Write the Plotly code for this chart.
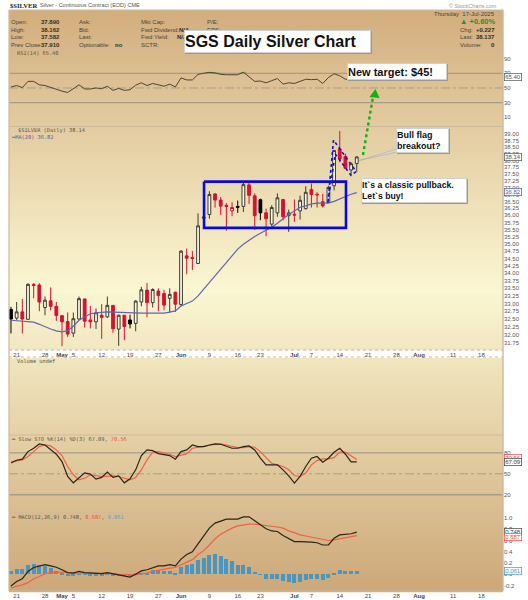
import plotly.graph_objects as go

tick_idx = [1, 6, 9, 11, 16, 21, 26, 30, 35, 40, 44, 50, 53, 58, 63, 68, 72, 78, 83]
tick_txt = ["21", "28", "<b>May</b>", "5", "12", "19", "27", "<b>Jun</b>", "9", "16", "23",
            "<b>Jul</b>", "7", "14", "21", "28", "<b>Aug</b>", "11", "18"]
price_ticks = [31.75, 32.00, 32.25, 32.50, 32.75, 33.00, 33.25, 33.50, 33.75, 34.00, 34.25, 34.50, 34.75,
               35.00, 35.25, 35.50, 35.75, 36.00, 36.25, 36.50, 36.75, 37.00, 37.25, 37.50, 37.75, 38.00,
               38.25, 38.50, 38.75, 39.00]

opens = [32.81, 32.53, 32.73, 32.49, 33.63, 33.61, 32.87, 33.09, 32.91, 32.61, 32.42, 32.05, 32.50, 33.15, 32.47, 32.41,
         32.62, 32.57, 32.94, 32.18, 32.62, 32.47, 32.36, 33.05, 33.44, 33.03, 33.41, 33.33, 33.17, 33.37, 32.97,
         34.59, 34.53, 34.33, 35.90, 36.03, 36.77, 36.55, 36.36, 36.16, 36.32, 36.32, 37.10, 36.70, 36.56, 36.09,
         35.69, 36.09, 36.57, 35.99, 36.04, 36.16, 36.24, 36.93, 36.76, 36.49, 36.47, 37.07, 38.44, 38.16, 37.65, 37.89]
highs = [32.89, 33.05, 33.15, 33.67, 33.67, 33.67, 33.23, 33.53, 33.05, 32.63, 32.71, 32.71, 33.23, 33.15, 32.92, 32.84,
         32.98, 33.23, 32.95, 32.64, 32.62, 32.64, 33.11, 33.55, 33.68, 33.50, 33.50, 33.45, 33.50, 33.39, 34.79,
         34.84, 34.76, 36.07, 36.02, 36.87, 36.79, 36.66, 36.44, 36.47, 36.53, 37.19, 37.24, 36.79, 36.60, 36.24,
         36.36, 36.79, 36.57, 36.21, 36.57, 36.71, 37.05, 37.15, 36.83, 36.77, 37.07, 38.38, 39.13, 38.26, 37.94, 38.162]
lows = [32.04, 32.47, 32.04, 32.47, 33.17, 32.75, 32.62, 32.78, 32.44, 31.64, 31.93, 31.93, 32.47, 32.23, 32.20, 32.18,
        31.87, 32.53, 32.06, 31.65, 31.83, 32.20, 32.11, 32.91, 32.56, 32.87, 32.75, 32.78, 32.70, 32.73, 32.91,
        33.97, 34.11, 34.33, 35.88, 35.88, 36.28, 36.01, 35.46, 35.97, 36.09, 36.12, 36.41, 35.48, 35.83, 35.27,
        35.62, 35.95, 35.83, 35.42, 35.77, 35.85, 36.21, 36.28, 36.28, 36.28, 36.47, 36.90, 37.94, 37.71, 37.46, 37.582]
closes = [32.50, 32.73, 32.50, 33.63, 33.59, 33.05, 33.11, 32.91, 32.61, 32.41, 32.02, 32.51, 33.16, 32.43, 32.41, 32.70,
          32.55, 32.94, 32.19, 32.62, 32.26, 32.34, 33.08, 33.45, 33.03, 33.46, 33.26, 32.95, 33.30, 32.98, 34.75,
          34.51, 34.50, 35.63, 35.94, 36.75, 36.55, 36.33, 36.32, 36.28, 36.29, 37.11, 36.72, 35.99, 36.09, 35.88,
          36.28, 36.63, 35.95, 36.09, 36.01, 36.54, 36.83, 36.75, 36.74, 36.34, 37.01, 38.38, 38.06, 37.71, 37.88, 38.137]
ma20 = [32.46, 32.45, 32.42, 32.41, 32.40, 32.33, 32.25, 32.18, 32.12, 32.09, 32.13, 32.27, 32.46, 32.56, 32.67, 32.70,
        32.72, 32.73, 32.72, 32.71, 32.71, 32.70, 32.70, 32.69, 32.69, 32.69, 32.69, 32.69, 32.72, 32.76, 32.92,
        33.00, 33.08, 33.25, 33.47, 33.69, 33.91, 34.16, 34.38, 34.61, 34.82, 34.99, 35.13, 35.26, 35.37, 35.47,
        35.58, 35.72, 35.88, 36.03, 36.16, 36.29, 36.34, 36.41, 36.44, 36.44, 36.44, 36.50, 36.59, 36.68, 36.76, 36.82]
rsi = [51.4, 53.3, 50.5, 59, 59, 54.3, 53.3, 50.5, 48.6, 45.7, 43.8, 49, 54.3, 48.6, 48.6, 50, 49, 52.4, 46.7, 49.5,
       46.7, 47.6, 53.8, 57.1, 53.3, 56.2, 54.3, 52.4, 55.2, 51.4, 63.8, 61, 61, 68.6, 70.2, 71.4, 70.6, 68.6, 68.1,
       68.1, 68.1, 71.6, 65.7, 59, 59.5, 57.1, 60, 62.9, 55.2, 57.1, 56.2, 59.5, 61.9, 61.4, 61.9, 56.2, 64.3, 69.5,
       66.7, 61.9, 61.9, 65.4]
sto_k = [66.2, 69.5, 71, 81.9, 86.7, 92.9, 91.4, 84.3, 78.1, 67.6, 46.2, 37.1, 43.8, 51.4, 49.5, 42.4, 44.8, 52.4, 44.8,
         47.1, 37.1, 42.9, 55.7, 76.2, 84.3, 83.3, 79, 78.1, 76.2, 71, 81.9, 84.3, 91.4, 89, 89, 91.4, 92.9, 92.4, 89,
         86.7, 86.7, 89, 90, 84.3, 72.4, 62.9, 62.9, 62.9, 55.7, 47.1, 36.7, 46.2, 60.5, 72.4, 74.8, 66.7, 72.4, 81,
         86.7, 78.1, 67.2, 67.09]
sto_d = [65.2, 68.6, 70, 74.8, 81.9, 89, 91.4, 90, 84.3, 76.2, 60.5, 48.6, 41.4, 43.8, 48.6, 47.1, 46.2, 46.2, 47.1,
         46.2, 43.8, 41.4, 44.8, 55.7, 70, 81, 81.9, 80.5, 78.1, 74.8, 76.2, 78.6, 86.7, 88.6, 89.5, 91, 92.4, 92.9,
         91.4, 89, 87.6, 87.6, 89, 88.1, 81.9, 73.3, 65.2, 62.9, 60.5, 55.7, 47.6, 46.2, 51, 62.9, 69, 71.4, 71.4, 73.3,
         81, 81, 76.2, 70.56]
macd = [-.21, -.13, -.08, .05, .12, .15, .17, .15, .125, .08, .03, .02, .05, .03, .02, .02, .01, .03, .01, -.01, -.04,
        -.05, 0, .06, .08, .12, .15, .15, .17, .15, .27, .35, .40, .54, .67, .82, .91, .95, .98, .98, .98, 1.02, 1.02,
        .95, .88, .81, .77, .76, .69, .63, .58, .58, .58, .57, .56, .52, .52, .64, .70, .71, .72, .748]
signal = [-.24, -.22, -.19, -.15, -.08, -.04, .01, .03, .04, .04, .03, .02, .02, .02, .02, .02, .02, .02, .01, 0, 0,
          -.01, -.01, .01, .02, .05, .07, .10, .11, .12, .17, .21, .26, .35, .42, .52, .63, .71, .77, .82, .86, .88,
          .89, .89, .88, .87, .86, .84, .82, .77, .74, .70, .68, .66, .64, .61, .60, .61, .63, .64, .66, .687]
hist = [.05, .09, .09, .16, .19, .17, .15, .11, .065, .03, -.03, -.03, -.012, -.012, -.04, -.03, -.03, .005, -.03, -.03,
        -.04, -.04, .01, .03, .03, .07, .08, .05, .05, .03, .12, .17, .18, .25, .29, .35, .36, .32, .28, .24, .17, .17,
        .13, .04, -.01, -.08, -.09, -.09, -.12, -.14, -.16, -.13, -.10, -.08, -.08, -.10, -.07, .02, .07, .05, .05, .061]

W, H = 528, 600
L, R = 9, 503
FONT = "Liberation Sans"
def px(x): return x / W
def py(y): return 1 - y / H
days = list(range(len(closes)))
fig = go.Figure()

# candles: four StockCharts styles, decided by close against open and previous close
def kind(i):
    up_day = i == 0 or closes[i] >= closes[i - 1]
    hollow = closes[i] >= opens[i]
    if hollow:
        return "hollow" if up_day else "hollowred"
    return "black" if up_day else "red"
styles = {"hollow": ("#3c3c30", "#fbf8e4"), "hollowred": ("#d8102e", "#fbf8e4"),
          "red": ("#d8102e", "#d8102e"), "black": ("#000000", "#000000")}
for k, (lc, fc) in styles.items():
    idx = [i for i in days if kind(i) == k]
    side = dict(line=dict(color=lc, width=1), fillcolor=fc)
    fig.add_trace(go.Candlestick(x=idx, open=[opens[i] for i in idx], high=[highs[i] for i in idx],
                                 low=[lows[i] for i in idx], close=[closes[i] for i in idx],
                                 increasing=side, decreasing=side, whiskerwidth=0,
                                 xaxis="x2", yaxis="y2", showlegend=False))
fig.add_trace(go.Scatter(x=days, y=ma20, mode="lines", line=dict(color="#6464b0", width=1.2), xaxis="x2", yaxis="y2"))

# hand-drawn consolidation box and flag
box_x, box_y = [34.06, 59.1, 59.1, 34.06, 34.06], [37.22, 37.22, 35.56, 35.56, 37.22]
fig.add_trace(go.Scatter(x=box_x, y=box_y, mode="lines", line=dict(color="#0808e0", width=2.6), xaxis="x2", yaxis="y2"))
flag_x, flag_y = [55.9, 56.9, 60.9, 60.0, 57.2, 55.9], [36.45, 38.78, 37.59, 37.45, 38.25, 36.45]
fig.add_trace(go.Scatter(x=flag_x, y=flag_y, mode="lines", line=dict(color="#1010d8", width=1.6, dash="dot"), xaxis="x2", yaxis="y2"))

# RSI
rsi_top = [max(v, 70) for v in rsi]
fig.add_trace(go.Scatter(x=days, y=[70] * len(days), mode="lines", line=dict(width=0), xaxis="x1", yaxis="y1"))
fig.add_trace(go.Scatter(x=days, y=rsi_top, mode="lines", line=dict(width=0), fill="tonexty",
                         fillcolor="#4c9a3c", xaxis="x1", yaxis="y1"))
fig.add_trace(go.Scatter(x=days, y=rsi, mode="lines", line=dict(color="#4a4636", width=1), xaxis="x1", yaxis="y1"))

# Stochastics
fig.add_trace(go.Scatter(x=days, y=sto_d, mode="lines", line=dict(color="#f0604a", width=1.2), xaxis="x3", yaxis="y3"))
fig.add_trace(go.Scatter(x=days, y=sto_k, mode="lines", line=dict(color="#2a2418", width=1.2), xaxis="x3", yaxis="y3"))

# MACD
fig.add_trace(go.Bar(x=days, y=hist, width=0.72, marker=dict(color="#4896c4", line=dict(width=0)), xaxis="x4", yaxis="y4"))
fig.add_trace(go.Scatter(x=days, y=signal, mode="lines", line=dict(color="#f0604a", width=1.2), xaxis="x4", yaxis="y4"))
fig.add_trace(go.Scatter(x=days, y=macd, mode="lines", line=dict(color="#2a2418", width=1.2), xaxis="x4", yaxis="y4"))

shapes = []
# gradient background
stops = [(10, (211, 174, 126)), (290, (251, 247, 211)), (591, (205, 168, 120))]
def grad(y):
    for (a, ca), (b, cb) in zip(stops, stops[1:]):
        if y <= b:
            t = (y - a) / (b - a)
            return "rgb(%d,%d,%d)" % tuple(ca[j] + (cb[j] - ca[j]) * t for j in range(3))
    return "rgb(205,168,120)"
for y in range(10, 591, 2):
    if 350 <= y < 357:
        continue
    shapes.append(dict(type="rect", layer="below", xref="paper", yref="paper", x0=px(L), x1=px(R),
                       y0=py(y), y1=py(y + 2.3), line=dict(width=0), fillcolor=grad(y)))
# panel frames
EDGE = "#cfb79c"
for y in [10, 49, 126.5, 435, 513, 591]:
    shapes.append(dict(type="line", xref="paper", yref="paper", x0=px(L), x1=px(R), y0=py(y), y1=py(y),
                       line=dict(color=EDGE, width=1.2)))
for y in [350, 357]:
    shapes.append(dict(type="line", xref="paper", yref="paper", x0=px(L), x1=px(R), y0=py(y), y1=py(y),
                       line=dict(color=EDGE, width=1, dash="dot")))
shapes.append(dict(type="line", xref="paper", yref="paper", x0=px(L), x1=px(L), y0=py(10), y1=py(591), line=dict(color=EDGE, width=1.2)))
shapes.append(dict(type="line", xref="paper", yref="paper", x0=px(R), x1=px(R), y0=py(10), y1=py(591), line=dict(color=EDGE, width=1.4)))
# reference levels
GRID = "#a49d8d"
for ya, lev in [("y", 70), ("y", 30), ("y3", 80), ("y3", 20)]:
    shapes.append(dict(type="line", xref="paper", yref=ya, x0=px(L), x1=px(R), y0=lev, y1=lev, layer="below", line=dict(color=GRID, width=1.3)))
for ya in ["y", "y3"]:
    shapes.append(dict(type="line", xref="paper", yref=ya, x0=px(L), x1=px(R), y0=50, y1=50, layer="below", line=dict(color=GRID, width=1, dash="dashdot")))
# target arrow
shapes.append(dict(type="line", xref="paper", yref="paper", x0=px(363), y0=py(155), x1=px(373.5), y1=py(94),
                   line=dict(color="#12b012", width=2.4, dash="dot")))
shapes.append(dict(type="path", xref="paper", yref="paper", fillcolor="#12b012", line=dict(width=0),
                   path="M %f %f L %f %f L %f %f Z" % (px(375.5), py(89), px(369.5), py(97), px(379.5), py(98))))
# label shadows and the leader of the flag note
for x0, y0, x1, y1 in [(185, 31, 372, 54), (348, 64, 448, 81), (397, 129, 450, 154), (362, 179, 468, 204)]:
    shapes.append(dict(type="rect", xref="paper", yref="paper", x0=px(x0), x1=px(x1), y0=py(y0), y1=py(y1),
                       fillcolor="#9a9a94", line=dict(width=0)))
shapes.append(dict(type="path", xref="paper", yref="paper", fillcolor="#d8d8d4", line=dict(color="#a0a0a0", width=0.5),
                   path="M %f %f L %f %f L %f %f Z" % (px(397), py(149), px(397), py(152), px(359), py(160.5))))

anns = []
def text(x, y, s, size=6, color="#4a4436", anchor="left", bold=False, font=FONT):
    anns.append(dict(xref="paper", yref="paper", x=px(x), y=py(y), text="<b>%s</b>" % s if bold else s, showarrow=False,
                     xanchor=anchor, yanchor="middle", font=dict(size=size, color=color, family=font), borderpad=0))
def note(x0, y0, x1, y1, s, size, align="left"):
    anns.append(dict(xref="paper", yref="paper", x=px((x0 + x1) / 2), y=py((y0 + y1) / 2), text="<b>%s</b>" % s,
                     showarrow=False, xanchor="center", yanchor="middle", width=x1 - x0 - 2, height=y1 - y0 - 2, align=align,
                     bgcolor="#ffffff", bordercolor="#d0d0d0", borderwidth=1, borderpad=0,
                     font=dict(size=size, color="#111111", family=FONT)))
def tag(y, s, color):
    anns.append(dict(xref="paper", yref="paper", x=px(513), y=py(y), text=s, showarrow=False, xanchor="center", yanchor="middle",
                     bgcolor="rgba(255,255,255,0.75)", bordercolor=color, borderwidth=0.7, borderpad=0.5,
                     font=dict(size=6, color=color, family=FONT)))

text(9, 5.5, "$SILVER", 6.6, "#222222", bold=True, font="Liberation Serif")
text(39, 5.5, "Silver - Continuous Contract (EOD) CME", 5.5, "#555555")
text(498, 6, "© StockCharts.com", 5.5, "#999999", "right")
rows = [21.5, 29.5, 37, 45]
for y, lab, val in zip(rows, ["Open:", "High:", "Low:", "Prev Close:"], ["37.890", "38.162", "37.582", "37.910"]):
    text(10, y, lab)
    text(61, y, val, 6, "#333022", "right", True)
for y, lab in zip(rows, ["Ask:", "Bid:", "Last:", "Optionable:"]):
    text(78, y, lab)
text(124, 45, "no", 6, "#333022", "right", True)
for y, lab in zip(rows, ["Mkt Cap:", "Fwd Dividend:", "Fwd Yield:", "SCTR:"]):
    text(140, y, lab)
text(178, 29.5, "N/A", 6, "#333022", bold=True)
text(176, 37, "N/A", 6, "#333022", bold=True)
text(206, 21.5, "P/E:")
text(206, 29.5, "EPS:")
text(496, 14, "Thursday  17-Jul-2025", 6, "#4a4436", "right")
text(496, 22, "<b>▲ +0.60%</b>", 7.5, "#2e8b3a", "right")
for y, lab, val in zip(rows[1:], ["Chg:", "Last:", "Volume:"], ["+0.227", "38.137", "0"]):
    text(459, y, lab)
    text(496, y, val, 6, "#333022", "right", True)
MONO = "DejaVu Sans Mono"
text(16, 52.5, "RSI(14) 65.40", 5.3, "#5a5646", font=MONO)
text(17, 130.5, "$SILVER (Daily) 38.14", 5.3, "#5a5646", font=MONO)
text(10, 136.5, "━MA(20) 36.82", 5.3, "#5c5ca8", font=MONO)
text(16, 361, "Volume undef", 5.3, "#5a5646", font=MONO)
text(10, 439, "━ Slow STO %K(14) %D(3) 67.09, <span style='color:#f0503a'>70.56</span>", 5.3, "#5a5646", font=MONO)
text(10, 517, "━ MACD(12,26,9) 0.748, <span style='color:#f0503a'>0.687</span>, <span style='color:#5aa0c8'>0.061</span>", 5.3, "#5a5646", font=MONO)

note(184, 30, 371, 53, "SGS Daily Silver Chart", 16)
note(347, 63, 447, 80, "New target: $45!", 11)
note(396, 128, 449, 153, "Bull flag<br>breakout?", 9)
note(361, 178, 467, 203, "It`s a classic pullback.<br>Let`s buy!", 8.7)

tag(77, "65.40", "#555555")
tag(157, "38.14", "#555555")
tag(192, "36.82", "#5c5ca8")
tag(458, "70.56", "#f0503a")
tag(462, "67.09", "#444444")
tag(532, "0.748", "#444444")
tag(537, "0.687", "#f0503a")
tag(571, "0.061", "#4896c4")

XR = [-0.35, 86.8]
hidden_x = dict(range=XR, showgrid=False, zeroline=False, showticklabels=False, ticks="", showline=False)
date_x = dict(range=XR, showgrid=False, zeroline=False, showline=False, ticks="", tickmode="array", tickvals=tick_idx, ticktext=tick_txt,
              tickfont=dict(size=6, color="#444444", family=FONT), tickangle=0)
tf = dict(size=6, color="#555555", family=FONT)
def yax(top, bottom, rng, vals, txt=None, kind_="linear"):
    d = dict(domain=[py(bottom), py(top)], range=rng, side="right", showgrid=False, zeroline=False, showline=False,
             ticks="", tickmode="array", tickvals=vals, tickfont=tf, type=kind_)
    if txt:
        d["ticktext"] = txt
    return d

fig.update_layout(
    width=W, height=H, autosize=False, margin=dict(l=0, r=0, t=0, b=0), paper_bgcolor="#ffffff",
    plot_bgcolor="rgba(0,0,0,0)", showlegend=False, boxgap=0.3, bargap=0, dragmode=False,
    shapes=shapes, annotations=anns,
    xaxis=dict(hidden_x, domain=[px(L), px(R)], anchor="y"),
    yaxis=yax(49, 126.5, [-2.8, 103.4], [90, 70, 50, 30, 10]),
    xaxis2=dict(date_x, domain=[px(L), px(R)], anchor="y2", rangeslider=dict(visible=False)),
    yaxis2=yax(126.5, 350, [1.4986, 1.5944], price_ticks, ["%.2f" % v for v in price_ticks], "log"),
    xaxis3=dict(hidden_x, domain=[px(L), px(R)], anchor="y3"),
    yaxis3=yax(435, 513, [-6.2, 105.7], [80, 50, 20]),
    xaxis4=dict(date_x, domain=[px(L), px(R)], anchor="y4"),
    yaxis4=yax(513, 591, [-0.298, 1.089], [1.0, 0.8, 0.6, 0.4, 0.2, 0, -0.2], ["1.0", "0.8", "0.6", "0.4", "0.2", "0.0", "-0.2"]),
)
fig.write_html("out.html", config={"displayModeBar": False}, post_script="document.body.style.margin='0';")
